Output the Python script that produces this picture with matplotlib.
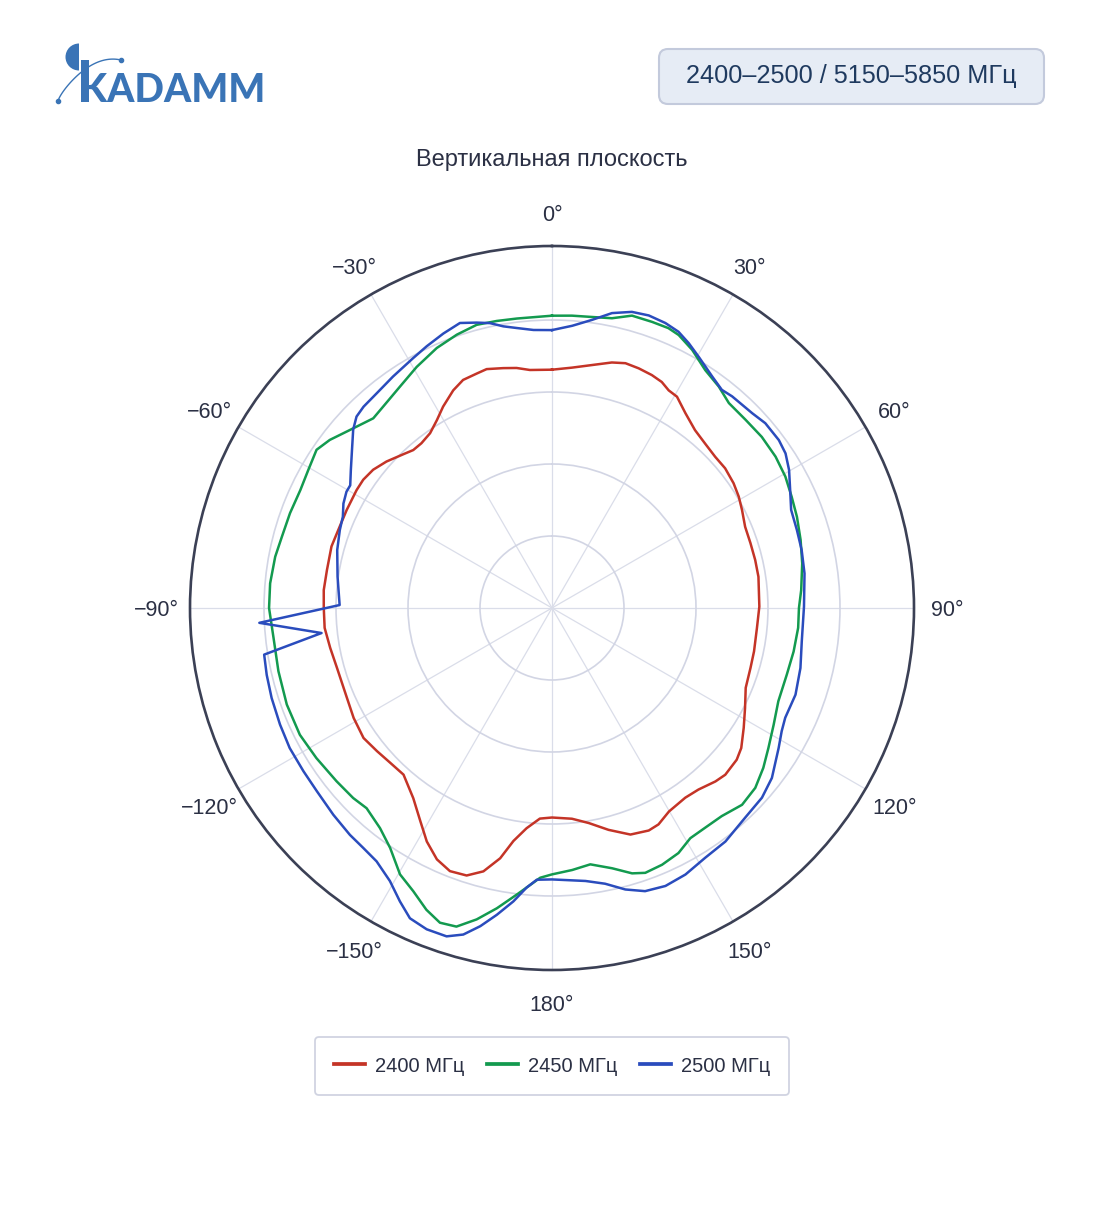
import numpy as np
import matplotlib
matplotlib.use("Agg")
import matplotlib.pyplot as plt
import matplotlib.transforms as mtransforms
from matplotlib.patches import FancyBboxPatch, Wedge, Rectangle
from matplotlib.lines import Line2D

plt.rcParams['font.family'] = ['Liberation Sans', 'DejaVu Sans']

# ---------------- data ----------------
series_names = ["2400 МГц", "2450 МГц", "2500 МГц"]
series_colors = ["#c43427", "#139a4f", "#2a4cbd"]

theta_2400 = [0, 4.75, 9.35, 13.7, 16.7, 19.9, 23.2, 25.9, 28.2, 30.6, 34.4, 38.8, 43.0, 47.2,
              51.1, 55.5, 59.2, 62.7, 67.2, 71.9, 76.7, 81.4, 89.6, 95.6, 102.1, 106.8, 112.4,
              117.4, 122.0, 126.5, 129.4, 133.9, 136.7, 141.1, 144.9, 150.1, 153.8, 156.5, 160.9,
              165.7, 170.3, 174.6, 180, 183.3, 186.6, 189.4, 191.7, 194.6, 197.7, 201.2, 204.6,
              208.2, 211.7, 216.1, 221.7, 226.3, 230.7, 235.4, 241.0, 246.3, 254.4, 259.8, 265.0,
              270.0, 274.5, 279.6, 285.6, 290.1, 295.5, 301.1, 304.2, 307.7, 311.5, 316.0, 318.7,
              321.6, 325.1, 328.5, 331.6, 335.6, 338.7, 342.2, 344.7, 348.5, 351.6, 354.7, 360]
r_2400 = [3.31, 3.35, 3.42, 3.51, 3.55, 3.54, 3.52, 3.49, 3.43, 3.41, 3.28, 3.17, 3.12, 3.09,
          3.09, 3.06, 3.02, 2.97, 2.91, 2.90, 2.90, 2.90, 2.88, 2.86, 2.87, 2.88, 2.91,
          3.02, 3.14, 3.27, 3.32, 3.34, 3.31, 3.24, 3.22, 3.26, 3.35, 3.37, 3.33,
          3.18, 3.03, 2.94, 2.91, 2.93, 3.08, 3.28, 3.55, 3.78, 3.90, 3.92, 3.84,
          3.68, 3.48, 3.27, 3.10, 3.11, 3.14, 3.18, 3.15, 3.11, 3.10, 3.13, 3.17,
          3.17, 3.18, 3.17, 3.18, 3.16, 3.16, 3.17, 3.17, 3.14, 3.07, 2.97, 2.92,
          2.92, 2.96, 3.06, 3.18, 3.32, 3.40, 3.42, 3.44, 3.40, 3.37, 3.32, 3.31]

theta_2450 = [0, 3.9, 7.8, 11.7, 15.3, 19.3, 22.6, 24.9, 28.5, 32.8, 37.0, 40.8, 45.8, 50.8,
              55.9, 60.6, 65.1, 69.6, 74.7, 79.9, 85.9, 90, 94.6, 100.2, 105.8, 112.4, 117.8,
              122.9, 127.1, 131.5, 136.0, 140.8, 145.1, 149.0, 152.7, 156.8, 160.6, 163.2, 167.0,
              171.5, 175.6, 180, 182.5, 187.0, 190.4, 193.6, 196.7, 199.6, 202.6, 206.1, 209.7,
              214.0, 218.0, 222.8, 226.3, 231.2, 237.5, 243.3, 250.0, 257.0, 263.9, 270, 275.0,
              280.5, 284.8, 289.9, 295.1, 299.5, 303.9, 307.1, 311.4, 316.7, 320.0, 325.5, 330.7,
              336.1, 340.8, 345.1, 349.1, 353.1, 360]
r_2450 = [4.06, 4.07, 4.08, 4.11, 4.21, 4.21, 4.21, 4.18, 4.08, 3.93, 3.85, 3.76, 3.75, 3.76,
          3.75, 3.72, 3.67, 3.63, 3.58, 3.53, 3.47, 3.43, 3.43, 3.41, 3.39, 3.40, 3.48,
          3.58, 3.68, 3.77, 3.80, 3.73, 3.72, 3.73, 3.83, 3.88, 3.90, 3.85, 3.71,
          3.60, 3.65, 3.70, 3.75, 4.01, 4.24, 4.45, 4.62, 4.64, 4.54, 4.38, 4.26,
          4.02, 3.88, 3.79, 3.82, 3.84, 3.88, 3.92, 3.92, 3.90, 3.89, 3.93, 3.93,
          3.91, 3.88, 3.87, 3.86, 3.89, 3.94, 3.87, 3.74, 3.62, 3.65, 3.73, 3.84,
          3.95, 4.02, 4.07, 4.06, 4.05, 4.06]

theta_2500 = [0, 4.1, 7.9, 11.5, 15.1, 18.3, 21.7, 24.6, 27.3, 30.3, 34.7, 37.9, 40.4, 45.8,
              49.1, 53.5, 56.5, 59.8, 63.7, 67.7, 72.3, 76.9, 82.2, 89.7, 97.6, 103.6, 109.6,
              115.2, 118.2, 121.7, 127.7, 132.1, 137.4, 143.4, 148.5, 153.4, 157.8, 161.8, 165.4,
              169.1, 173.0, 180, 183.2, 185.2, 187.5, 190.2, 192.7, 195.2, 197.8, 201.3, 204.6,
              207.4, 210.7, 214.7, 218.2, 221.7, 226.6, 232.1, 236.7, 241.9, 246.8, 252.2, 256.8,
              260.8, 263.8, 267.1, 270.8, 278.3, 285.1, 290.2, 293.6, 296.6, 299.5, 301.3, 304.5,
              308.3, 311.9, 314.4, 316.9, 320.8, 325.5, 330.9, 334.4, 338.4, 342.1, 345.2, 347.7,
              350.2, 352.8, 356.2, 360]
r_2500 = [3.86, 3.93, 4.04, 4.18, 4.26, 4.28, 4.26, 4.22, 4.14, 4.04, 3.91, 3.84, 3.86, 3.88,
          3.92, 3.92, 3.89, 3.81, 3.69, 3.59, 3.57, 3.56, 3.54, 3.50, 3.50, 3.55, 3.59,
          3.58, 3.62, 3.70, 3.86, 3.93, 3.96, 4.04, 4.07, 4.14, 4.17, 4.14, 4.04,
          3.90, 3.82, 3.77, 3.78, 3.90, 4.11, 4.33, 4.53, 4.70, 4.79, 4.79, 4.74,
          4.59, 4.41, 4.28, 4.24, 4.22, 4.18, 4.14, 4.13, 4.13, 4.11, 4.09, 4.07,
          4.05, 3.22, 4.07, 2.95, 3.01, 3.09, 3.14, 3.17, 3.24, 3.28, 3.28, 3.39,
          3.54, 3.71, 3.80, 3.83, 3.85, 3.90, 3.97, 4.03, 4.10, 4.16, 4.10, 4.05,
          3.97, 3.92, 3.87, 3.86]

theta_ticks = [0, 30, 60, 90, 120, 150, 180, 210, 240, 270, 300, 330]
theta_labels = ["0°", "30°", "60°", "90°", "120°", "150°", "180°",
                "−150°", "−120°", "−90°", "−60°", "−30°"]
r_grid = [1, 2, 3, 4]
r_max = 5.028

title_text = "Вертикальная плоскость"
badge_text = "2400–2500 / 5150–5850 МГц"
logo_text = "KADAMM"

# ---------------- figure ----------------
W, H = 1104, 1211
fig = plt.figure(figsize=(W / 100, H / 100), dpi=100)
fig.patch.set_facecolor("white")

bg = fig.add_axes([0, 0, 1, 1])
bg.set_xlim(0, W)
bg.set_ylim(H, 0)
bg.axis("off")

cx, cy, R = 552, 608, 362
ax = fig.add_axes([(cx - R) / W, (H - (cy + R)) / H, 2 * R / W, 2 * R / H], projection="polar")
ax.set_theta_zero_location("N")
ax.set_theta_direction(-1)
ax.set_ylim(0, r_max)
ax.set_yticks(r_grid)
ax.set_yticklabels([])
ax.set_xticks(np.deg2rad(theta_ticks))
ax.set_xticklabels([])
ax.xaxis.grid(True, color="#dadde9", lw=0.9)
ax.yaxis.grid(True, color="#d2d5e4", lw=1.2)
ax.spines["polar"].set_color("#3b4055")
ax.spines["polar"].set_linewidth(1.9)
ax.set_facecolor("white")

handles = []
for th, rr, col in zip([theta_2400, theta_2450, theta_2500],
                       [r_2400, r_2450, r_2500], series_colors):
    ax.plot(np.deg2rad(th), rr, color=col, lw=1.8, solid_joinstyle="round")
    handles.append(Line2D([0], [0], color=col, lw=2.7))

lab_trans = mtransforms.offset_copy(ax.transData, fig=fig, x=0, y=-2.5, units="dots")
for t, lab in zip(theta_ticks, theta_labels):
    ax.text(np.deg2rad(t), 5.49, lab, ha="center", va="center", fontsize=15.5,
            color="#2b3044", clip_on=False, transform=lab_trans)

fig.text(cx / W, 1 - 160 / H, title_text, ha="center", va="center", fontsize=17, color="#2b3044")

# badge
bg.add_patch(FancyBboxPatch((659, 49), 385, 55, boxstyle="round,pad=0,rounding_size=9",
                            facecolor="#e6ecf5", edgecolor="#c3cadc", lw=1.5))
bg.text(851, 76, badge_text, ha="center", va="center", fontsize=18.2, color="#1f3a5f")

# logo
logo_col = "#3a74b6"
bg.add_patch(Wedge((79, 57), 13.5, 90, 270, facecolor=logo_col, edgecolor="none"))
bg.add_patch(Rectangle((80.5, 60), 8, 42, facecolor=logo_col, edgecolor="none"))
bg.text(80, 102, logo_text, ha="left", va="baseline", fontsize=28, fontweight="black",
        family=["Lato", "Liberation Sans"], color=logo_col)
ts = np.linspace(0, 1, 50)
arc_x = 58 + (121 - 58) * ts
arc_y = 101 - 55 * np.sin(ts * np.pi / 2) ** 0.8 + 14 * ts
bg.plot(arc_x, arc_y, color=logo_col, lw=1.0)
bg.plot([58, 121], [101, 60], "o", color=logo_col, ms=3)

# legend
leg = fig.legend(handles, series_names, loc="center", bbox_to_anchor=(cx / W, 1 - 1066 / H),
                 ncol=3, fontsize=14.5, frameon=True, fancybox=True, handlelength=1.55,
                 handletextpad=0.5, columnspacing=1.1, borderpad=0.95)
leg.get_frame().set_edgecolor("#c5c9da")
leg.get_frame().set_linewidth(1.3)
for t in leg.get_texts():
    t.set_color("#2b3044")

fig.savefig("out.png", dpi=100, facecolor="white")
